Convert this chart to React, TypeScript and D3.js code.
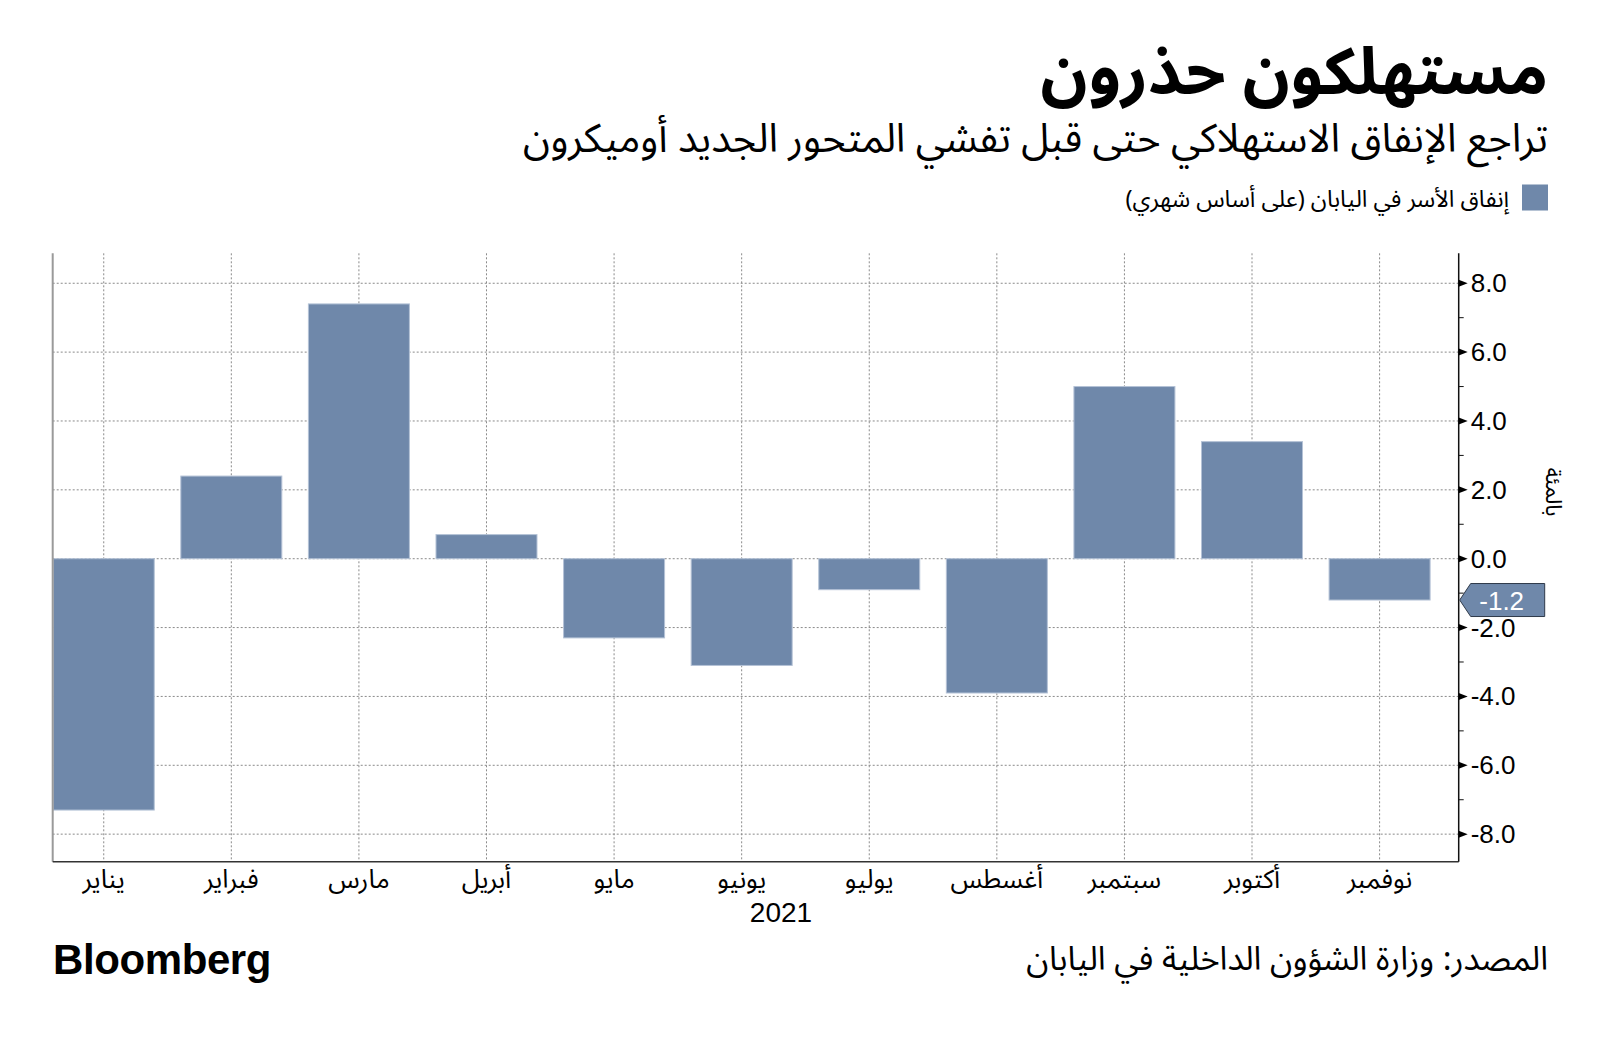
import React from "react";
import * as d3 from "d3";

const TITLE = "مستهلكون حذرون";
const SUBTITLE = "تراجع الإنفاق الاستهلاكي حتى قبل تفشي المتحور الجديد أوميكرون";
const LEGEND = "إنفاق الأسر في اليابان (على أساس شهري)";
const SOURCE = "المصدر: وزارة الشؤون الداخلية في اليابان";
const Y_LABEL = "بالمئة";
const YEAR = "2021";

const MONTHS = ["يناير", "فبراير", "مارس", "أبريل", "مايو", "يونيو", "يوليو", "أغسطس", "سبتمبر", "أكتوبر", "نوفمبر"];
const VALUES = [-7.3, 2.4, 7.4, 0.7, -2.3, -3.1, -0.9, -3.9, 5.0, 3.4, -1.2];
const Y_TICKS = [-8, -6, -4, -2, 0, 2, 4, 6, 8];
const Y_MINOR = [-7, -5, -3, -1, 1, 3, 5, 7];

const BAR = "#6f88aa";
const AR = "'Noto Sans Arabic', 'DejaVu Sans', sans-serif";
const LAT = "'Liberation Sans', Arial, sans-serif";
const fmt = (v: number) => d3.format(".1f")(v).replace("\u2212", "-");

export default function App() {
  const L = 52.7, R = 1458.7, T = 253.3, B = 861.7;
  const x = d3.scaleLinear().domain([-0.4, 10.62]).range([L, R]);
  const y = d3.scaleLinear().domain([-8.8, 8.87]).range([B, T]);
  const barW = 101;
  const lastV = VALUES[VALUES.length - 1];
  const ly = y(lastV);

  return (
    <svg width={1600} height={1040} style={{ position: "absolute", left: 0, top: 0, background: "#fff" }}>
      <defs>
        <clipPath id="plot">
          <rect x={L} y={T} width={R - L} height={B - T} />
        </clipPath>
      </defs>
      {/* Title */}
      <text x={1548} y={94} direction="rtl" textAnchor="start" fontFamily={AR} fontWeight="bold" fontSize={65} fill="#000">{TITLE}</text>
      <text x={1548} y={152} direction="rtl" textAnchor="start" fontFamily={AR} fontSize={40} fill="#000">{SUBTITLE}</text>
      {/* Legend */}
      <rect x={1522} y={184.5} width={26} height={26} fill={BAR} />
      <text x={1509} y={207} direction="rtl" textAnchor="start" fontFamily={AR} fontSize={23.5} fill="#000">{LEGEND}</text>

      {/* grid */}
      <g stroke="#8a8a8a" strokeWidth={1} strokeDasharray="2,2">
        {Y_TICKS.map((t) => (
          <line key={"h" + t} x1={L} x2={R} y1={y(t)} y2={y(t)} />
        ))}
        {MONTHS.map((m, i) => (
          <line key={"v" + i} x1={x(i)} x2={x(i)} y1={T} y2={B} />
        ))}
      </g>

      {/* bars */}
      <g clipPath="url(#plot)">
        {VALUES.map((v, i) => (
          <rect
            key={i}
            x={x(i) - barW / 2}
            y={Math.min(y(v), y(0))}
            width={barW}
            height={Math.abs(y(v) - y(0))}
            fill={BAR}
            stroke="#b4c2d6"
            strokeWidth={1}
          />
        ))}
      </g>

      {/* axes */}
      <line x1={L} x2={L} y1={T} y2={B} stroke="#9a9a9a" strokeWidth={2} />
      <line x1={L} x2={R} y1={B} y2={B} stroke="#333" strokeWidth={1.5} />
      <line x1={R} x2={R} y1={T} y2={B} stroke="#111" strokeWidth={1.5} />

      {Y_MINOR.map((t) => (
        <line key={"m" + t} x1={R} x2={R + 5} y1={y(t)} y2={y(t)} stroke="#111" strokeWidth={1} />
      ))}
      {Y_TICKS.map((t) => (
        <g key={"t" + t}>
          <path d={`M${R},${y(t) - 3.5}L${R + 9},${y(t)}L${R},${y(t) + 3.5}Z`} fill="#000" />
          <text x={R + 12} y={y(t) + 9} fontFamily={LAT} fontSize={26} fill="#000">{fmt(t)}</text>
        </g>
      ))}

      {/* last value label */}
      <path
        d={`M${R + 1},${ly}L${R + 12},${ly - 16.5}L${R + 86},${ly - 16.5}L${R + 86},${ly + 16.5}L${R + 12},${ly + 16.5}Z`}
        fill={BAR}
        stroke="#2f3a4a"
        strokeWidth={1}
      />
      <text x={R + 43} y={ly + 9.5} textAnchor="middle" fontFamily={LAT} fontSize={26} fill="#fff">{fmt(lastV)}</text>

      {/* y label */}
      <text transform={`translate(1546,492) rotate(90)`} textAnchor="middle" fontFamily={AR} fontSize={22} fill="#000">{Y_LABEL}</text>

      {/* x labels */}
      {MONTHS.map((m, i) => (
        <text key={"xl" + i} x={x(i)} y={888} textAnchor="middle" fontFamily={AR} fontSize={26} fill="#000">{m}</text>
      ))}
      <text x={781} y={922} textAnchor="middle" fontFamily={LAT} fontSize={28} fill="#000">{YEAR}</text>

      {/* footer */}
      <text x={53} y={974} fontFamily={LAT} fontWeight="bold" fontSize={42} letterSpacing={-0.4} fill="#000">Bloomberg</text>
      <text x={1548} y={970} direction="rtl" textAnchor="start" fontFamily={AR} fontSize={33} fill="#000">{SOURCE}</text>
    </svg>
  );
}
